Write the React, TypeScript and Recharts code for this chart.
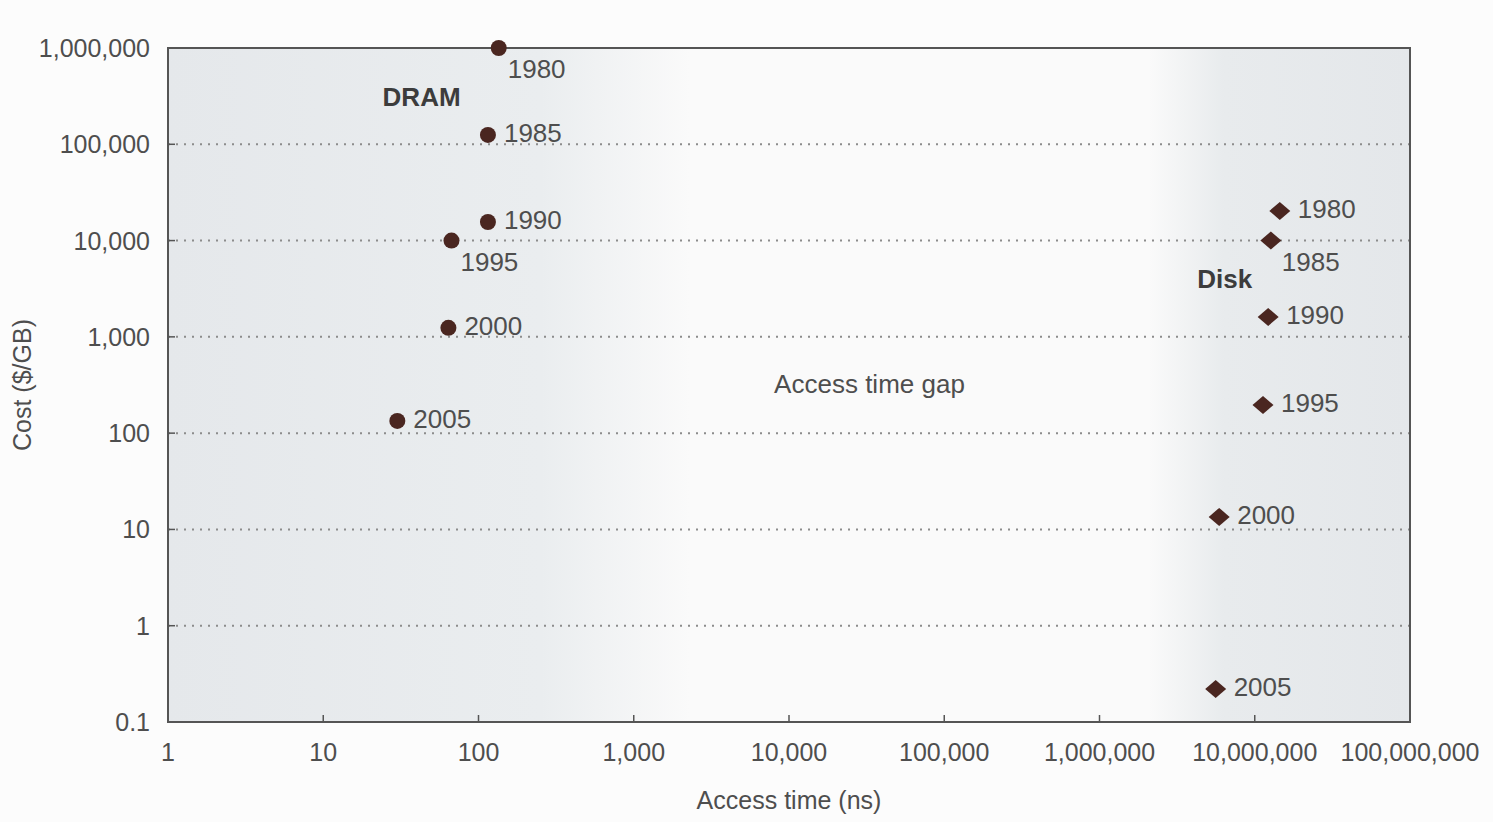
import React from "react";
import {
  ScatterChart,
  Scatter,
  XAxis,
  YAxis,
  CartesianGrid,
  ReferenceArea,
  ReferenceDot,
} from "recharts";

// values (access time in ns, cost in $/GB)
const years = ["1980", "1985", "1990", "1995", "2000", "2005"];
const dramAccess = [135, 115, 115, 67, 64, 30];
const dramCost = [1000000, 125000, 15600, 10000, 1240, 134];
const diskAccess = [14500000, 12700000, 12200000, 11300000, 5900000, 5600000];
const diskCost = [20300, 10000, 1610, 196, 13.5, 0.22];

const xTicks = [1, 10, 100, 1000, 10000, 100000, 1000000, 10000000, 100000000];
const yTicks = [0.1, 1, 10, 100, 1000, 10000, 100000, 1000000];

// labels that sit under the marker instead of to the right
const dramBelow = ["1980", "1995"];
const diskBelow = ["1985"];

const FONT = "'Liberation Sans', Arial, Helvetica, sans-serif";
const TEXT = "#4e4e4e";
const MARK = "#4a2620";

const dramData = years.map((year, i) => ({ year, x: dramAccess[i], y: dramCost[i] }));
const diskData = years.map((year, i) => ({ year, x: diskAccess[i], y: diskCost[i] }));

const fmt = (v: number) => (v < 1 ? String(v) : v.toLocaleString("en-US"));

function XTick(props: any) {
  const { x, y, payload } = props;
  const edge = payload.value === 1 || payload.value === 100000000;
  return (
    <g>
      {!edge && <line x1={x} x2={x} y1={y} y2={y - 7} stroke="#555" strokeWidth={1.5} />}
      <text x={x} y={y + 39} textAnchor="middle" fill={TEXT} fontSize={25} fontFamily={FONT}>
        {fmt(payload.value)}
      </text>
    </g>
  );
}

function YTick(props: any) {
  const { x, y, payload } = props;
  const edge = payload.value === 0.1 || payload.value === 1000000;
  return (
    <g>
      {!edge && <line x1={x} x2={x + 7} y1={y} y2={y} stroke="#555" strokeWidth={1.5} />}
      <text x={x - 18} y={y + 9} textAnchor="end" fill={TEXT} fontSize={25} fontFamily={FONT}>
        {fmt(payload.value)}
      </text>
    </g>
  );
}

function yearLabel(cx: number, cy: number, year: string, below: boolean, gap: number) {
  return below ? (
    <text x={cx + gap - 1} y={cy + 30} fill={TEXT} fontSize={26} fontFamily={FONT}>
      {year}
    </text>
  ) : (
    <text x={cx + gap + 6} y={cy + 7} fill={TEXT} fontSize={26} fontFamily={FONT}>
      {year}
    </text>
  );
}

function DramDot(props: any) {
  const { cx, cy, payload } = props;
  return (
    <g>
      <circle cx={cx} cy={cy} r={8} fill={MARK} />
      {yearLabel(cx, cy, payload.year, dramBelow.includes(payload.year), 10)}
    </g>
  );
}

function DiskDiamond(props: any) {
  const { cx, cy, payload } = props;
  const w = 10.5;
  const h = 9;
  return (
    <g>
      <path
        d={`M${cx},${cy - h} L${cx + w},${cy} L${cx},${cy + h} L${cx - w},${cy} Z`}
        fill={MARK}
      />
      {yearLabel(cx, cy, payload.year, diskBelow.includes(payload.year), 12)}
    </g>
  );
}

export default function App() {
  return (
    <div style={{ position: "absolute", left: 0, top: 0, width: 1493, height: 822, background: "#fcfcfc" }}>
      <ScatterChart width={1493} height={822} margin={{ top: 48, right: 83, left: 8, bottom: 5 }}>
        <defs>
          <linearGradient id="plotBg" x1="0" y1="0" x2="1" y2="0">
            <stop offset="0" stopColor="#e5e8eb" />
            <stop offset="0.3" stopColor="#eaedef" />
            <stop offset="0.42" stopColor="#fafafa" />
            <stop offset="0.79" stopColor="#fafafa" />
            <stop offset="0.85" stopColor="#e8ebed" />
            <stop offset="1" stopColor="#e4e7ea" />
          </linearGradient>
        </defs>
        <CartesianGrid
          vertical={false}
          stroke="#8c8c8c"
          strokeWidth={2}
          strokeDasharray="2 6"
          fill="url(#plotBg)"
          fillOpacity={1}
        />
        <XAxis
          type="number"
          dataKey="x"
          scale="log"
          domain={[1, 100000000]}
          ticks={xTicks}
          interval={0}
          axisLine={false}
          tickLine={false}
          tickSize={0}
          tickMargin={0}
          height={95}
          tick={<XTick />}
          label={{
            value: "Access time (ns)",
            position: "insideBottom",
            offset: 8,
            fill: TEXT,
            fontSize: 25,
            fontFamily: FONT,
          }}
        />
        <YAxis
          type="number"
          dataKey="y"
          scale="log"
          domain={[0.1, 1000000]}
          ticks={yTicks}
          interval={0}
          axisLine={false}
          tickLine={false}
          tickSize={0}
          tickMargin={0}
          width={160}
          tick={<YTick />}
          label={{
            value: "Cost ($/GB)",
            angle: -90,
            position: "insideLeft",
            offset: 14,
            fill: TEXT,
            fontSize: 25,
            fontFamily: FONT,
            style: { textAnchor: "middle" },
          }}
        />
        <ReferenceArea
          x1={1}
          x2={100000000}
          y1={0.1}
          y2={1000000}
          fill="none"
          stroke="#555"
          strokeWidth={2}
          ifOverflow="visible"
        />
        <ReferenceDot
          x={43}
          y={310000}
          r={0}
          stroke="none"
          label={{ value: "DRAM", position: "center", fill: "#3c3c3c", fontSize: 26, fontWeight: "bold", fontFamily: FONT }}
        />
        <ReferenceDot
          x={6400000}
          y={4000}
          r={0}
          stroke="none"
          label={{ value: "Disk", position: "center", fill: "#3c3c3c", fontSize: 26, fontWeight: "bold", fontFamily: FONT }}
        />
        <ReferenceDot
          x={33000}
          y={324}
          r={0}
          stroke="none"
          label={{ value: "Access time gap", position: "center", fill: TEXT, fontSize: 26, fontFamily: FONT }}
        />
        <Scatter name="DRAM" data={dramData} shape={<DramDot />} isAnimationActive={false} />
        <Scatter name="Disk" data={diskData} shape={<DiskDiamond />} isAnimationActive={false} />
      </ScatterChart>
    </div>
  );
}
